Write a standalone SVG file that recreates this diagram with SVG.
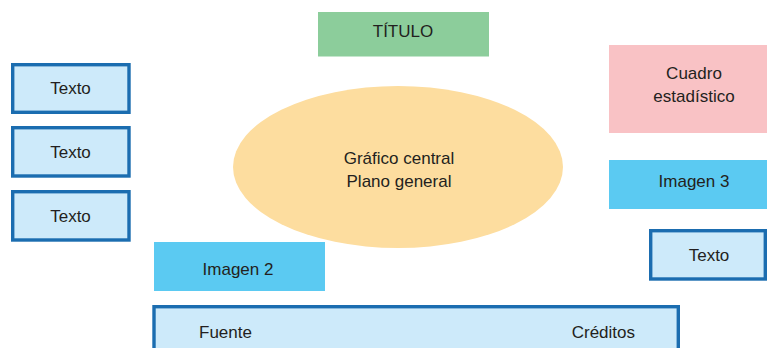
<svg xmlns="http://www.w3.org/2000/svg" width="767" height="348" viewBox="0 0 767 348">
<style>
text{font-family:"Liberation Sans",Arial,sans-serif;font-size:17px;fill:#231f20;text-anchor:middle}
.tb{fill:#cdeafa;stroke:#1b6db0;stroke-width:3.4}
.img{fill:#5bcaf2}
</style>
<rect width="767" height="348" fill="#ffffff"/>
<g id="connectors"></g>
<g id="titulo">
<rect x="318" y="12" width="171" height="44.5" fill="#8ccd9b"/>
<text x="403" y="37">TÍTULO</text>
</g>
<g id="texto1">
<rect class="tb" x="12.7" y="64.7" width="116.3" height="47.6"/>
<text x="70.5" y="94">Texto</text>
</g>
<g id="texto2">
<rect class="tb" x="12.7" y="127.7" width="116.3" height="48.3"/>
<text x="70.5" y="158">Texto</text>
</g>
<g id="texto3">
<rect class="tb" x="12.7" y="191.7" width="116.3" height="48.3"/>
<text x="70.5" y="222">Texto</text>
</g>
<g id="grafico">
<ellipse cx="398" cy="167" rx="165" ry="81" fill="#fddd9f"/>
<text x="399" y="164">Gráfico central</text>
<text x="399" y="187">Plano general</text>
</g>
<g id="cuadro">
<rect x="609" y="45" width="158" height="88" fill="#f9c2c5"/>
<text x="694" y="79">Cuadro</text>
<text x="694" y="102">estadístico</text>
</g>
<g id="imagen3">
<rect class="img" x="609" y="160" width="158" height="49"/>
<text x="694" y="187">Imagen 3</text>
</g>
<g id="texto4">
<rect class="tb" x="650.7" y="230.7" width="114.6" height="48.3"/>
<text x="709" y="261">Texto</text>
</g>
<g id="imagen2">
<rect class="img" x="154" y="242" width="171" height="49"/>
<text x="238" y="275">Imagen 2</text>
</g>
<g id="creditos">
<rect class="tb" x="154" y="306.7" width="524.3" height="60"/>
<text x="199" y="338" style="text-anchor:start">Fuente</text>
<text x="635" y="338" style="text-anchor:end">Créditos</text>
</g>
</svg>
